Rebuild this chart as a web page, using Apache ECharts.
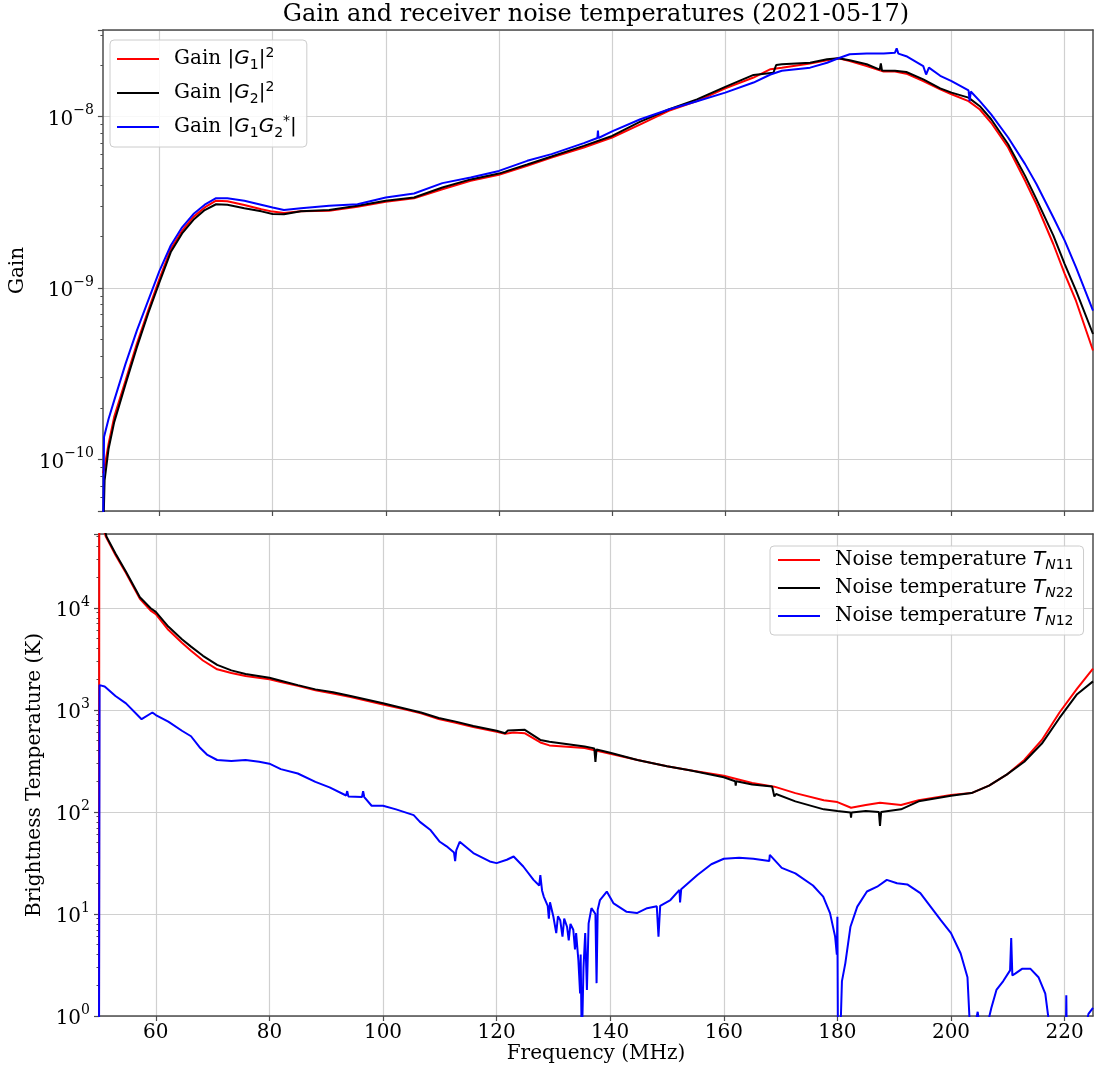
<!DOCTYPE html>
<html>
<head>
<meta charset="utf-8">
<title>Gain and receiver noise temperatures</title>
<script src="https://cdn.jsdelivr.net/npm/echarts@6/dist/echarts.min.js"></script>
<style>
  html, body { margin: 0; padding: 0; background: #fff; }
  #chart { width: 1100px; height: 1075px; }
</style>
</head>
<body>
<div id="chart"></div>
<script>
// ---- data (frequency in MHz) ----
var freqTicks = [60, 80, 100, 120, 140, 160, 180, 200, 220];
var gainRange = [5e-11, 3.2e-8];
var tempRange = [1, 5.3e4];

// top panel: gain
var g1Freq = [50.0, 50.3, 51, 52, 54, 56, 58, 60, 62, 64,
  66, 68, 70, 72, 75, 78, 80, 82, 85, 90,
  95, 100, 105, 110, 115, 120, 125, 129.3, 135, 140,
  145, 150, 155, 160, 165, 168, 170, 175, 178, 180,
  182, 185, 188, 190, 192, 195, 198, 200, 203, 205,
  207, 210, 213, 215, 218, 220, 222, 225];
var g1Gain = [8.3e-11, 9.0e-11, 1.23e-10, 1.77e-10, 2.88e-10, 4.72e-10, 7.38e-10, 1.13e-9, 1.69e-9, 2.16e-9,
  2.60e-9, 2.95e-9, 3.23e-9, 3.21e-9, 3.05e-9, 2.88e-9, 2.79e-9, 2.74e-9, 2.80e-9, 2.82e-9,
  2.98e-9, 3.18e-9, 3.34e-9, 3.77e-9, 4.22e-9, 4.57e-9, 5.16e-9, 5.77e-9, 6.6e-9, 7.55e-9,
  9.0e-9, 1.08e-8, 1.23e-8, 1.46e-8, 1.69e-8, 1.89e-8, 1.93e-8, 2.04e-8, 2.13e-8, 2.19e-8,
  2.11e-8, 1.97e-8, 1.83e-8, 1.83e-8, 1.78e-8, 1.61e-8, 1.44e-8, 1.35e-8, 1.23e-8, 1.10e-8,
  9.2e-9, 6.6e-9, 4.22e-9, 3.08e-9, 1.80e-9, 1.21e-9, 8.4e-10, 4.32e-10];

var g2Freq = [50.0, 50.3, 51, 52, 54, 56, 58, 60, 62, 64,
  66, 68, 70, 72, 75, 78, 80, 82, 85, 90,
  95, 100, 105, 110, 115, 120, 125, 129.3, 135, 140,
  145, 150, 155, 160, 165, 168.5, 169, 170, 175, 178,
  180, 182, 185, 187.3, 187.5, 187.7, 190, 192, 195, 198,
  200, 203, 205, 207, 210, 213, 215, 218, 220, 222,
  225];
var g2Gain = [3.0e-11, 7.55e-11, 1.15e-10, 1.65e-10, 2.75e-10, 4.5e-10, 7.1e-10, 1.08e-9, 1.62e-9, 2.08e-9,
  2.5e-9, 2.85e-9, 3.08e-9, 3.06e-9, 2.92e-9, 2.80e-9, 2.70e-9, 2.69e-9, 2.80e-9, 2.85e-9,
  3.02e-9, 3.23e-9, 3.37e-9, 3.86e-9, 4.3e-9, 4.65e-9, 5.25e-9, 5.85e-9, 6.75e-9, 7.71e-9,
  9.35e-9, 1.10e-8, 1.26e-8, 1.49e-8, 1.75e-8, 1.80e-8, 2.0e-8, 2.02e-8, 2.06e-8, 2.16e-8,
  2.19e-8, 2.13e-8, 2.02e-8, 1.88e-8, 2.04e-8, 1.86e-8, 1.85e-8, 1.82e-8, 1.65e-8, 1.46e-8,
  1.38e-8, 1.29e-8, 1.15e-8, 9.65e-9, 6.9e-9, 4.51e-9, 3.3e-9, 2.02e-9, 1.38e-9, 9.65e-10,
  5.39e-10];

var g12Freq = [50.0, 50.2, 51, 52, 54, 56, 58, 60, 62, 64,
  66, 68, 70, 72, 75, 80, 82, 85, 90, 95,
  100, 105, 110, 115, 120, 125, 129.3, 135, 137.4, 137.5,
  137.6, 140, 145, 150, 155, 160, 165, 168, 170, 175,
  178, 180, 182, 185, 188, 190, 190.3, 190.6, 192, 195,
  195.5, 196, 198, 200, 203, 203.2, 203.4, 205, 207, 210,
  213, 215, 218, 220, 222, 225];
var g12Gain = [3.0e-11, 1.35e-10, 1.72e-10, 2.21e-10, 3.61e-10, 5.64e-10, 8.43e-10, 1.26e-9, 1.77e-9, 2.26e-9,
  2.70e-9, 3.06e-9, 3.34e-9, 3.34e-9, 3.23e-9, 2.95e-9, 2.85e-9, 2.92e-9, 3.02e-9, 3.08e-9,
  3.37e-9, 3.56e-9, 4.09e-9, 4.41e-9, 4.82e-9, 5.52e-9, 6.04e-9, 7.0e-9, 7.5e-9, 8.3e-9,
  7.5e-9, 8.2e-9, 9.65e-9, 1.10e-8, 1.23e-8, 1.38e-8, 1.58e-8, 1.76e-8, 1.85e-8, 1.93e-8,
  2.06e-8, 2.19e-8, 2.31e-8, 2.33e-8, 2.33e-8, 2.36e-8, 2.5e-8, 2.33e-8, 2.25e-8, 1.97e-8,
  1.76e-8, 1.93e-8, 1.73e-8, 1.61e-8, 1.42e-8, 1.23e-8, 1.40e-8, 1.23e-8, 1.03e-8, 7.55e-9,
  5.28e-9, 4.04e-9, 2.58e-9, 1.89e-9, 1.32e-9, 7.38e-10];

// bottom panel: noise temperature (K)
var tn11Freq = [50.0, 50.05, 51.2, 52.9, 54.75, 57.2, 59.1, 60, 62.2, 64.6,
  66.2, 68.3, 70.8, 73.3, 75.8, 80, 82, 85, 88.1, 91.2,
  94.3, 100, 103.6, 106.7, 109.8, 112.8, 115.9, 120, 121.5, 123,
  125, 127.7, 129.3, 135.5, 140, 144.8, 150, 154, 160, 165,
  168.9, 172.6, 177.6, 180, 182.4, 185, 187.5, 191.2, 194.3, 200,
  203.6, 206.7, 209.8, 212.9, 216, 219.1, 222.2, 225];
var tn11 = [0.5, 8e4, 5.0e4, 3.3e4, 2.2e4, 1.23e4, 9400, 8700, 6100, 4550,
  3800, 3050, 2500, 2300, 2150, 2000, 1880, 1720, 1560, 1450,
  1340, 1130, 1020, 925, 815, 750, 680, 610, 585, 600,
  590, 480, 449, 424, 372, 323, 281, 256, 226, 192,
  177, 153, 130, 125, 110, 117, 123, 117, 130, 147,
  153, 181, 232, 323, 508, 944, 1614, 2540];

var tn22Freq = [50.0, 51.35, 52.9, 54.75, 57.2, 59.1, 60, 62.2, 64.6, 66.2,
  68.3, 70.8, 73.3, 75.8, 80, 82, 85, 88.1, 91.2, 94.3,
  100, 103.6, 106.7, 109.8, 112.8, 115.9, 120, 121.5, 122, 124.9,
  127.7, 129.3, 135.5, 137.2, 137.4, 137.6, 140, 144.8, 150, 154,
  160, 162, 162.1, 162.2, 165, 168.5, 168.9, 169.2, 172.6, 177.6,
  180, 182.3, 182.4, 182.5, 185, 187.3, 187.5, 187.7, 191.2, 194.3,
  200, 203.6, 206.7, 209.8, 212.9, 216, 219.1, 222.2, 225];
var tn22 = [9e4, 4.95e4, 3.42e4, 2.26e4, 1.27e4, 9920, 9130, 6560, 4920, 4170,
  3390, 2760, 2440, 2245, 2070, 1935, 1750, 1590, 1490, 1370,
  1160, 1040, 944, 834, 768, 695, 625, 590, 630, 640,
  508, 488, 438, 420, 310, 410, 381, 323, 281, 256,
  219, 200, 181, 200, 186, 178, 142, 150, 127, 106,
  102, 99, 88, 99, 102, 100, 73, 100, 106, 127,
  144, 153, 181, 232, 310, 468, 834, 1426, 1905];

var tn12Freq = [50.0, 50.1, 51, 52.9, 54.75, 57.5, 59.4, 60, 62.2, 64.6,
  66.2, 67.7, 69, 70.8, 73.3, 75.8, 78.2, 80, 82, 85,
  88.1, 90.6, 93.5, 93.7, 93.9, 96.3, 96.5, 96.7, 98, 100,
  102.3, 105.4, 106.5, 108.3, 110, 111.2, 112.5, 112.7, 112.9, 113.5,
  115.9, 118.8, 120, 121.8, 123, 124.7, 126.5, 127.5, 127.7, 128,
  128.3, 129, 129.2, 129.4, 130, 130.5, 130.8, 131.2, 131.6, 131.9,
  132.4, 132.7, 133, 133.5, 133.8, 134, 134.4, 134.7, 134.8, 135,
  135.3, 135.6, 135.9, 136.2, 136.7, 137.4, 137.6, 137.8, 138.2, 139.4,
  140.6, 142.9, 144.7, 146.5, 148.2, 148.5, 148.8, 150.6, 152.2, 152.3,
  152.5, 155.3, 157.8, 160, 162.7, 165.2, 168, 168.1, 170.2, 172.6,
  175.7, 177.5, 178.7, 179.6, 179.9, 180.0, 180.1, 180.5, 180.8, 181.4,
  182.3, 183.5, 185.2, 187, 188.7, 190.5, 192.3, 194.6, 196.4, 198.2,
  200, 201.7, 202.9, 203.5, 204.7, 205.5, 207.1, 208, 209.2, 210.4,
  210.6, 210.8, 211.3, 212.5, 214, 215.4, 216.6, 217.8, 220.2, 220.3,
  220.4, 223, 224.2, 225];
var tn12 = [0.4, 1750, 1700, 1370, 1160, 811, 944, 891, 768, 625,
  552, 431, 365, 323, 315, 323, 310, 297, 263, 238,
  197, 174, 145, 160, 142, 140, 160, 140, 115, 115,
  106, 93, 80, 67, 51, 46, 40, 33, 42, 51,
  39.5, 32.7, 31.5, 34, 36.6, 29.2, 21.6, 19, 24, 17,
  14.8, 12, 9, 13, 9.4, 6.5, 9.5, 8.7, 6, 9,
  7.5, 5.5, 8, 7, 4.5, 6.5, 3.5, 1.66, 4, 0.5,
  3, 6.5, 1.8, 8.1, 11.4, 10, 2.1, 11, 13.7, 16.6,
  12.7, 10.5, 10.2, 11.4, 11.9, 6.0, 12, 13.7, 17.2, 13,
  17.5, 24, 30.7, 34.8, 35.6, 34.8, 33, 38, 28.3, 25,
  19, 14.8, 10.2, 6.0, 4, 9.4, 0.5, 0.6, 2.2, 3.3,
  7.5, 11.8, 16.6, 18.5, 21.6, 20, 19.5, 16, 11.8, 8.7,
  6.5, 4.1, 2.4, 0.5, 1.1, 0.5, 1.2, 1.8, 2.2, 2.8,
  5.8, 2.5, 2.6, 2.9, 2.9, 2.4, 1.66, 0.5, 0.5, 1.6,
  0.5, 0.5, 1.05, 1.2];

// ---- styling ----
var SERIF = 'DejaVu Serif';
var SANS = 'DejaVu Sans';
var SPINE = '#4d4d4d';
var GRIDLINE = '#d0d0d0';
var RED = '#ff0000', BLACK = '#000000', BLUE = '#0000ff';

function pairs(xs, ys) {
  return xs.map(function (x, i) { return [x, ys[i]]; });
}

//标签 10^n
function powLabel(v) {
  var l = Math.log10(v), e = Math.round(l);
  if (Math.abs(l - e) > 1e-6) return '';
  return '{b|10}{e|' + (e < 0 ? '\u2212' + (-e) : e) + '}';
}
var powRich = {
  b: { fontFamily: SERIF, fontSize: 20, lineHeight: 26, verticalAlign: 'bottom', color: '#000' },
  e: { fontFamily: SERIF, fontSize: 14, lineHeight: 14, verticalAlign: 'top', color: '#000' }
};

// minor ticks 2..9 x 10^n, in log10 units for the overlay tick axis
function minorLogTicks(range) {
  var out = [];
  var lo = Math.floor(Math.log10(range[0])), hi = Math.ceil(Math.log10(range[1]));
  for (var n = lo; n <= hi; n++) {
    for (var k = 2; k <= 9; k++) {
      var v = k * Math.pow(10, n);
      if (v > range[0] && v < range[1]) out.push(Math.log10(v));
    }
  }
  return out;
}

function legendRich(h) {
  return {
    n: { fontFamily: SERIF, fontSize: 20, lineHeight: h, padding: [0, 0, 0, 10], color: '#000' },
    m: { fontFamily: SANS, fontSize: 20, lineHeight: h, color: '#000' },
    i: { fontFamily: SANS, fontSize: 20, lineHeight: h, fontStyle: 'italic', color: '#000' },
    sb: { fontFamily: SANS, fontSize: 14, lineHeight: 14, verticalAlign: 'bottom', color: '#000' },
    sbi: { fontFamily: SANS, fontSize: 14, lineHeight: 14, verticalAlign: 'bottom', fontStyle: 'italic', color: '#000' },
    sp: { fontFamily: SANS, fontSize: 14, lineHeight: 14, verticalAlign: 'top', color: '#000' }
  };
}

var legendText = {
  'Gain |G1|^2': '{n|Gain }{m||}{i|G}{sb|1}{m||}{sp|2}',
  'Gain |G2|^2': '{n|Gain }{m||}{i|G}{sb|2}{m||}{sp|2}',
  'Gain |G1G2*|': '{n|Gain }{m||}{i|G}{sb|1}{i|G}{sb|2}{sp|*}{m||}',
  'Noise temperature TN11': '{n|Noise temperature }{i|T}{sbi|N}{sb|11}',
  'Noise temperature TN22': '{n|Noise temperature }{i|T}{sbi|N}{sb|22}',
  'Noise temperature TN12': '{n|Noise temperature }{i|T}{sbi|N}{sb|12}'
};

function freqAxis(gridIndex, withLabels) {
  return {
    type: 'value', gridIndex: gridIndex, min: 50, max: 225, position: 'bottom',
    axisLine: { show: true, onZero: false, lineStyle: { color: SPINE, width: 1.5 } },
    axisTick: { show: true, inside: false, length: 5, customValues: freqTicks, lineStyle: { color: SPINE, width: 1.2 } },
    axisLabel: { show: withLabels, customValues: freqTicks, margin: 7, fontFamily: SERIF, fontSize: 20, color: '#000' },
    splitLine: { show: true, lineStyle: { color: GRIDLINE, width: 1.2 } },
    name: withLabels ? 'Frequency (MHz)' : '',
    nameLocation: 'middle', nameGap: 27,
    nameTextStyle: { fontFamily: SERIF, fontSize: 20, color: '#000' }
  };
}

function logAxis(gridIndex, range, name, nameGap) {
  return {
    type: 'log', logBase: 10, gridIndex: gridIndex, min: range[0], max: range[1], position: 'left',
    axisLine: { show: true, onZero: false, lineStyle: { color: SPINE, width: 1.5 } },
    axisTick: { show: true, inside: false, length: 5, lineStyle: { color: SPINE, width: 1.2 } },
    axisLabel: { formatter: powLabel, rich: powRich, margin: 9 },
    splitLine: { show: true, lineStyle: { color: GRIDLINE, width: 1.2 } },
    name: name, nameLocation: 'middle', nameGap: nameGap, nameRotate: 90,
    nameTextStyle: { fontFamily: SERIF, fontSize: 20, color: '#000' }
  };
}

//次刻度（只画刻度线）
function minorTickAxis(gridIndex, range) {
  return {
    type: 'value', gridIndex: gridIndex, position: 'left',
    min: Math.log10(range[0]), max: Math.log10(range[1]),
    axisLine: { show: false },
    axisTick: { show: true, inside: false, length: 2.5, customValues: minorLogTicks(range), lineStyle: { color: SPINE, width: 1 } },
    axisLabel: { show: false }, splitLine: { show: false }
  };
}

//图框上边和右边
function spineAxis(gridIndex, position) {
  return {
    type: 'value', gridIndex: gridIndex, position: position, min: 0, max: 1,
    axisLine: { show: true, onZero: false, lineStyle: { color: SPINE, width: 1.5 } },
    axisTick: { show: false }, axisLabel: { show: false }, splitLine: { show: false }
  };
}

function lineSeries(name, xi, yi, xs, ys, color) {
  return {
    type: 'line', name: name, xAxisIndex: xi, yAxisIndex: yi,
    data: pairs(xs, ys),
    showSymbol: false, symbol: 'none', silent: true,
    lineStyle: { color: color, width: 2 },
    itemStyle: { color: color }
  };
}

var chart = echarts.init(document.getElementById('chart'), null, { renderer: 'canvas' });

var option = {
  animation: false,
  backgroundColor: '#ffffff',
  title: {
    text: 'Gain and receiver noise temperatures (2021-05-17)',
    left: 596, textAlign: 'center', top: 3, padding: 0,
    textStyle: { fontFamily: SERIF, fontSize: 24, fontWeight: 'normal', color: '#000' }
  },
  grid: [
    { left: 99, width: 994, top: 30, height: 481 },
    { left: 99, width: 994, top: 534, height: 482 }
  ],
  legend: [
    {
      orient: 'vertical', left: 110, top: 40, padding: [6, 10, 7, 7],
      itemWidth: 42, itemHeight: 2, itemGap: 8, icon: 'rect',
      backgroundColor: 'rgba(255,255,255,0.85)', borderColor: '#cccccc', borderWidth: 1, borderRadius: 4,
      data: ['Gain |G1|^2', 'Gain |G2|^2', 'Gain |G1G2*|'],
      formatter: function (name) { return legendText[name]; },
      textStyle: { fontFamily: SERIF, fontSize: 20, color: '#000', rich: legendRich(26) }
    },
    {
      orient: 'vertical', left: 770, top: 546, padding: [4, 10, 7, 8],
      itemWidth: 42, itemHeight: 2, itemGap: 6, icon: 'rect',
      backgroundColor: 'rgba(255,255,255,0.85)', borderColor: '#cccccc', borderWidth: 1, borderRadius: 4,
      data: ['Noise temperature TN11', 'Noise temperature TN22', 'Noise temperature TN12'],
      formatter: function (name) { return legendText[name]; },
      textStyle: { fontFamily: SERIF, fontSize: 20, color: '#000', rich: legendRich(24) }
    }
  ],
  xAxis: [
    freqAxis(0, false),
    freqAxis(1, true),
    spineAxis(0, 'top'),
    spineAxis(1, 'top')
  ],
  yAxis: [
    logAxis(0, gainRange, 'Gain', 67),
    logAxis(1, tempRange, 'Brightness Temperature (K)', 49),
    spineAxis(0, 'right'),
    spineAxis(1, 'right'),
    minorTickAxis(0, gainRange),
    minorTickAxis(1, tempRange)
  ],
  series: [
    lineSeries('Gain |G1|^2', 0, 0, g1Freq, g1Gain, RED),
    lineSeries('Gain |G2|^2', 0, 0, g2Freq, g2Gain, BLACK),
    lineSeries('Gain |G1G2*|', 0, 0, g12Freq, g12Gain, BLUE),
    lineSeries('Noise temperature TN11', 1, 1, tn11Freq, tn11, RED),
    lineSeries('Noise temperature TN22', 1, 1, tn22Freq, tn22, BLACK),
    lineSeries('Noise temperature TN12', 1, 1, tn12Freq, tn12, BLUE)
  ]
};

chart.setOption(option);
</script>
</body>
</html>
